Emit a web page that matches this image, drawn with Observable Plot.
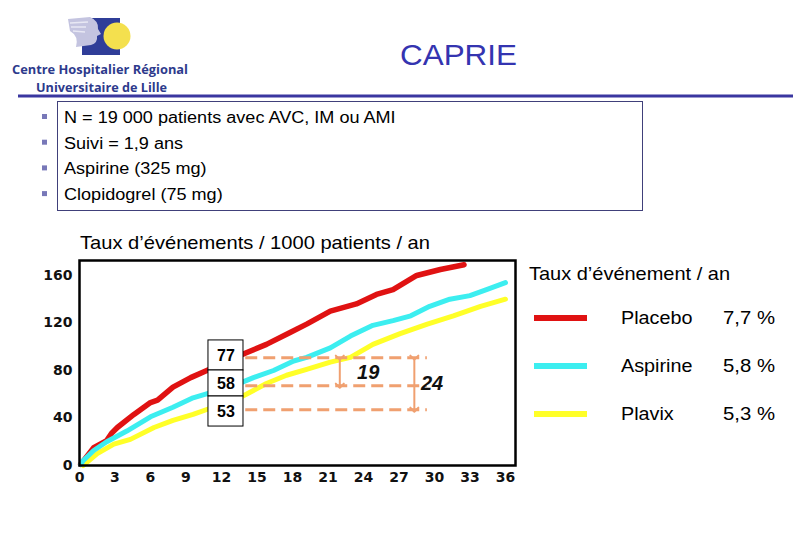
<!DOCTYPE html>
<html><head><meta charset="utf-8">
<script src="https://cdn.jsdelivr.net/npm/d3@7"></script>
<script src="https://cdn.jsdelivr.net/npm/@observablehq/plot@0.6"></script>
<style>
body{margin:0;background:#fff;}
#slide{position:relative;width:810px;height:540px;overflow:hidden;background:#fff;font-family:"Liberation Sans",Arial,sans-serif;}
#overlay{position:absolute;left:0;top:0;}
#chart{position:absolute;left:0;top:0;}
</style></head><body>
<div id="slide">
<svg id="overlay" width="810" height="540" font-family="Liberation Sans, Arial, sans-serif">
  <!-- logo -->
  <rect x="82" y="18" width="38" height="37" fill="#2f3d98"/>
  <circle cx="117" cy="36" r="13.5" fill="#f4e04e"/>
  <path d="M68,19 L90,17 Q99,21 98,29 L101,34 L97,36 Q98,43 91,45 L76,47 Q79,36 70,31 Z" fill="#c4c4e0"/>
  <path d="M70,23 L88,22 M71,27 L86,27 M73,31 L85,32" stroke="#e8e8f4" stroke-width="1.5"/>
  <text x="12" y="74" font-size="12" font-weight="bold" fill="#2d3a8c" textLength="176" lengthAdjust="spacingAndGlyphs" font-family="Open Sans, Liberation Sans, sans-serif">Centre Hospitalier Régional</text>
  <text x="36" y="92" font-size="12" font-weight="bold" fill="#2d3a8c" textLength="131" lengthAdjust="spacingAndGlyphs" font-family="Open Sans, Liberation Sans, sans-serif">Universitaire de Lille</text>
  <text x="400" y="65" font-size="29" fill="#3434b0" textLength="117" lengthAdjust="spacingAndGlyphs">CAPRIE</text>
  <rect x="18" y="94.5" width="775" height="3" fill="#3a37a0"/>
  <!-- bullet box -->
  <rect x="57.5" y="101.5" width="585" height="109" fill="none" stroke="#40407a" stroke-width="1"/>
  <g id="bullets" font-size="16" fill="#000"></g>
  <text x="80" y="249" font-size="18.5" fill="#000" textLength="350" lengthAdjust="spacingAndGlyphs">Taux d’événements / 1000 patients / an</text>
  <!-- legend -->
  <text x="529" y="280" font-size="18.5" fill="#000" textLength="201" lengthAdjust="spacingAndGlyphs">Taux d’événement / an</text>
  <g id="legend" font-size="18.5" fill="#000"></g>
</svg>
<div id="chart"></div>
</div>
<script>
// ---- data ----
const bulletLines = ["N = 19 000 patients avec AVC, IM ou AMI", "Suivi = 1,9 ans", "Aspirine (325 mg)", "Clopidogrel (75 mg)"];

const seriesNames = ["Placebo", "Aspirine", "Plavix"];
const seriesRates = ["7,7 %", "5,8 %", "5,3 %"];
const seriesColors = ["#e01212", "#3ceef0", "#ffff28"];

const placeboMonths = [0.1, 0.35, 1.2, 2.3, 2.7, 3.2, 4.6, 6, 6.6, 7.9, 9.4, 11, 12.5, 14.1, 15.8, 17.8, 19.2, 21.2, 23.4, 25.1, 26.5, 28.5, 30.5, 32.5];
const placeboValues = [1, 4, 15, 21, 27, 32, 43, 53, 55, 66, 74, 81, 88, 95, 102, 112, 119, 130, 136, 144, 148, 160, 165, 169];

const aspirinMonths = [0.1, 0.3, 1.2, 2.3, 4, 6, 7.9, 9.6, 11.3, 13, 14.7, 16.4, 18.1, 19.2, 21.2, 22.9, 24.8, 26.5, 28, 29.6, 31.3, 33, 34.4, 36];
const aspirinValues = [1, 4, 12.6, 20, 29, 41, 49, 57, 62, 67, 74, 80, 88, 91, 99, 109, 118, 122, 126, 134, 140, 143, 148, 154];

const plavixMonths = [0.3, 1.5, 2.9, 4.3, 6.3, 7.9, 9.6, 11, 12.5, 14.1, 15.8, 17.5, 19.2, 21.2, 22.9, 24.8, 27.1, 29.4, 31.6, 33.9, 36];
const plavixValues = [0, 10, 18, 22, 32, 38, 43, 48, 52, 60, 69, 76, 81, 87, 91, 102, 111, 119, 126, 134, 140];

const xTicks = [0, 3, 6, 9, 12, 15, 18, 21, 24, 27, 30, 33, 36];
const yTicks = [0, 40, 80, 120, 160];

// annotation at 12 months: boxed values and dashed reference levels
const boxLabels = ["77", "58", "53"];
const boxTops = [105.3, 80, 58.1];
const boxBottoms = [80, 58.1, 32.8];
const refLevels = [90.8, 67.2, 47];
const gapLabels = ["19", "24"];
const gapMonths = [22, 28.3];
const gapFrom = [90.8, 90.8];
const gapTo = [67.2, 47];
const gapLabelMonths = [24.4, 29.8];
const gapLabelValues = [78.3, 69];

// ---- overlay text ----
const NS = "http://www.w3.org/2000/svg";
const bg = document.getElementById("bullets");
bulletLines.forEach((t, i) => {
  const cy = 117 + i * 25.7;
  const r = document.createElementNS(NS, "rect");
  r.setAttribute("x", 42); r.setAttribute("y", cy - 3); r.setAttribute("width", 5); r.setAttribute("height", 5);
  r.setAttribute("fill", "#7878b8");
  bg.appendChild(r);
  const tx = document.createElementNS(NS, "text");
  tx.setAttribute("x", 0); tx.setAttribute("y", cy + 6);
  tx.setAttribute("transform", "translate(64,0) scale(1.13,1)");
  tx.textContent = t;
  bg.appendChild(tx);
});
const lg = document.getElementById("legend");
seriesNames.forEach((n, i) => {
  const cy = 318 + i * 48;
  const r = document.createElementNS(NS, "rect");
  r.setAttribute("x", 534); r.setAttribute("y", cy - 3); r.setAttribute("width", 53); r.setAttribute("height", 6);
  r.setAttribute("fill", seriesColors[i]);
  lg.appendChild(r);
  const t1 = document.createElementNS(NS, "text");
  t1.setAttribute("x", 0); t1.setAttribute("y", cy + 6);
  t1.setAttribute("transform", "translate(621,0) scale(1.07,1)");
  t1.textContent = n;
  lg.appendChild(t1);
  const t2 = document.createElementNS(NS, "text");
  t2.setAttribute("x", 0); t2.setAttribute("y", cy + 6);
  t2.setAttribute("transform", "translate(723,0) scale(1.1,1)");
  t2.textContent = seriesRates[i];
  lg.appendChild(t2);
});

// ---- chart ----
const toRows = (ms, vs) => ms.map((m, i) => ({m, v: vs[i]}));
const placebo = toRows(placeboMonths, placeboValues);
const aspirin = toRows(aspirinMonths, aspirinValues);
const plavix = toRows(plavixMonths, plavixValues);
const boxes = boxLabels.map((l, i) => ({label: l, top: boxTops[i], bottom: boxBottoms[i], mid: (boxTops[i] + boxBottoms[i]) / 2}));
const refs = refLevels.map(v => ({v}));
const gaps = gapLabels.map((l, i) => ({label: l, m: gapMonths[i], from: gapFrom[i], to: gapTo[i], lx: gapLabelMonths[i], ly: gapLabelValues[i]}));
const boxX1 = 10.9, boxX2 = 13.86, refX1 = 14.05, refX2 = 29.4;
const orange = "#f0a070";

const chart = Plot.plot({
  width: 810, height: 540,
  marginLeft: 79, marginRight: 295, marginTop: 260, marginBottom: 75,
  x: {domain: [0, 36.85], label: null},
  y: {domain: [0, 172.6], label: null},
  style: {background: "transparent", fontFamily: "DejaVu Sans, sans-serif", fontSize: "14px", color: "#111"},
  marks: [
    Plot.line(placebo, {x: "m", y: "v", stroke: seriesColors[0], strokeWidth: 5.5, strokeLinejoin: "round"}),
    Plot.line(plavix, {x: "m", y: "v", stroke: seriesColors[2], strokeWidth: 5, strokeLinejoin: "round"}),
    Plot.line(aspirin, {x: "m", y: "v", stroke: seriesColors[1], strokeWidth: 5, strokeLinejoin: "round"}),
    Plot.ruleY(refs, {y: "v", x1: refX1, x2: refX2, stroke: orange, strokeWidth: 3, strokeDasharray: "12,6"}),
    Plot.link(gaps, {x1: "m", x2: "m", y1: "from", y2: "to", stroke: orange, strokeWidth: 2, markerStart: "arrow", markerEnd: "arrow"}),
    Plot.text(gaps, {x: "lx", y: "ly", text: "label", fontSize: 20, fontWeight: "bold", fontStyle: "italic", fontFamily: "Liberation Sans, Arial, sans-serif", fill: "#111"}),
    Plot.rect(boxes, {x1: boxX1, x2: boxX2, y1: "bottom", y2: "top", fill: "white", stroke: "black", strokeWidth: 1}),
    Plot.text(boxes, {x: (boxX1 + boxX2) / 2, y: "mid", text: "label", fontSize: 16, fontWeight: "bold", fontFamily: "Liberation Sans, Arial, sans-serif", fill: "#000"}),
    Plot.frame({stroke: "black", strokeWidth: 2.5}),
    Plot.axisX({ticks: xTicks, tickSize: 0, tickPadding: 7, fontWeight: "bold", fontSize: 14}),
    Plot.axisY({ticks: yTicks, tickSize: 0, tickPadding: 7, fontWeight: "bold", fontSize: 14})
  ]
});
document.getElementById("chart").appendChild(chart);
</script>
</body></html>
